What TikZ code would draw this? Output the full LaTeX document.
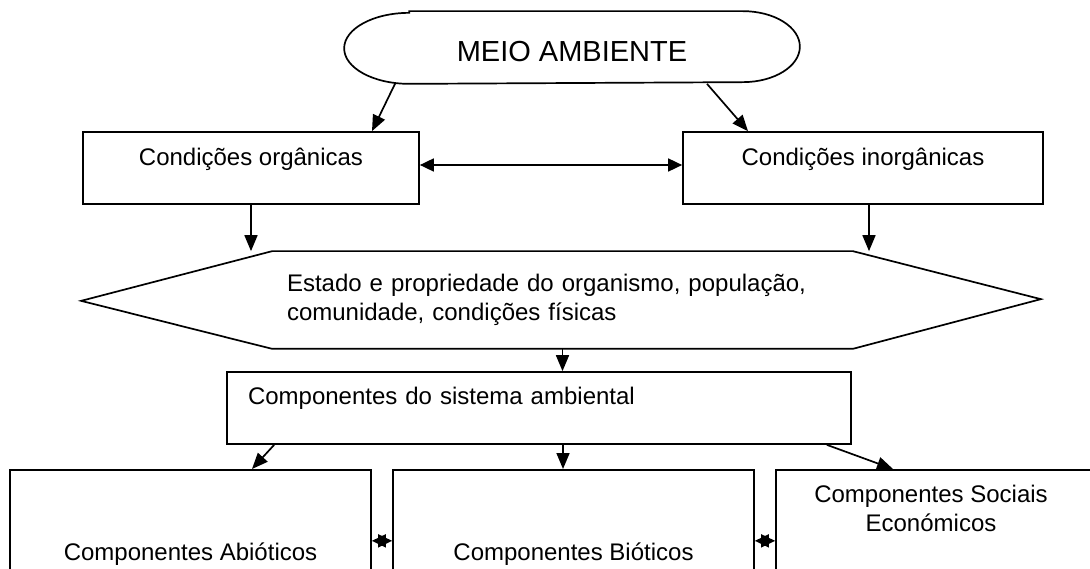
\documentclass[tikz,border=0pt]{standalone}
\usepackage{fontspec}
\setmainfont{Liberation Sans}
\usetikzlibrary{arrows.meta,positioning}

\begin{document}
\begin{tikzpicture}[x=1pt,y=1pt,>={Triangle[length=16pt,width=13pt]},
                    line width=1.7pt,
                    txt/.style={font=\fontsize{24}{29}\selectfont},
                    box/.style={draw,rectangle,txt,inner sep=0pt,
                                minimum height=72pt,text height=18pt},
                    low/.style={box,anchor=north,minimum height=200pt,
                                text depth=36pt},
                    both/.style={<->,>={Triangle[length=14pt,width=13pt]}}]

  \useasboundingbox (0,0) rectangle (1090,-569);
  \clip (0,0) rectangle (1090,-569);

  \node[inner sep=0pt,minimum width=454pt,minimum height=71pt,
        font=\fontsize{29}{34}\selectfont,text height=29pt,text depth=0pt]
        (meio) at (572,-47.5) {MEIO AMBIENTE};
  \draw ([xshift=65pt]meio.north west) -- ([xshift=-57pt]meio.north east)
        arc[start angle=90,end angle=-90,x radius=57pt,y radius=35.5pt]
        -- ([xshift=65pt]meio.south west)
        arc[start angle=270,end angle=90,x radius=65pt,y radius=35.5pt] -- cycle;

  \node[box,minimum width=336pt,text depth=22pt] (org)   at (251,-168) {Condições orgânicas};
  \node[box,minimum width=360pt,text depth=22pt] (inorg) at (863,-168) {Condições inorgânicas};

  \node[txt,minimum width=579pt,minimum height=96pt,inner xsep=14pt,inner ysep=0pt,
        text width=551pt,align=left] (estado) at (562.5,-300)
        {Estado e propriedade do organismo, população,\\comunidade, condições físicas};
  \draw (estado.north west) -- (estado.north east) -- ++(188,-48)
        -- (estado.south east) -- (estado.south west) -- ++(-191,48) -- cycle;

  \node[box,minimum width=624pt,inner xsep=21pt,text width=582pt,align=left,
        text depth=26pt] (sistema) at (539,-408) {Componentes do sistema ambiental};

  \node[low,minimum width=361pt] (abio) at (190.5,-469) {Componentes Abióticos};
  \node[low,minimum width=361pt] (bio)  at (573.5,-469) {Componentes Bióticos};
  \node[low,minimum width=319pt,
        label={[txt,align=center,anchor=north,inner sep=0pt,xshift=-4.5pt,
                yshift=-15.5pt]north:Componentes Sociais\\Económicos}]
        (socio) at (935.5,-469) {};

  \path[->] ([xshift=-177pt]meio.south) edge ([xshift=121pt]org.north)
            ([xshift=135pt]meio.south)  edge ([xshift=-115pt]inorg.north)
            ([yshift=3pt]org.east)      edge[both] ([yshift=3pt]inorg.west)
            (org.south)                 edge (org.south |- estado.north)
            ([xshift=6pt]inorg.south)   edge ([xshift=6pt]inorg.south |- estado.north)
            (estado.south)              edge (estado.south |- sistema.north)
            ([xshift=48pt]sistema.south west) edge ([xshift=61.5pt]abio.north)
            ([xshift=24pt]sistema.south) edge ([xshift=24pt]sistema.south |- bio.north)
            ([xshift=-25pt]sistema.south east) edge ([xshift=-42.5pt]socio.north)
            ([yshift=29pt]abio.east)    edge[both] ([yshift=29pt]bio.west)
            ([yshift=29pt]bio.east)     edge[both] ([yshift=29pt]socio.west);
\end{tikzpicture}
\end{document}
